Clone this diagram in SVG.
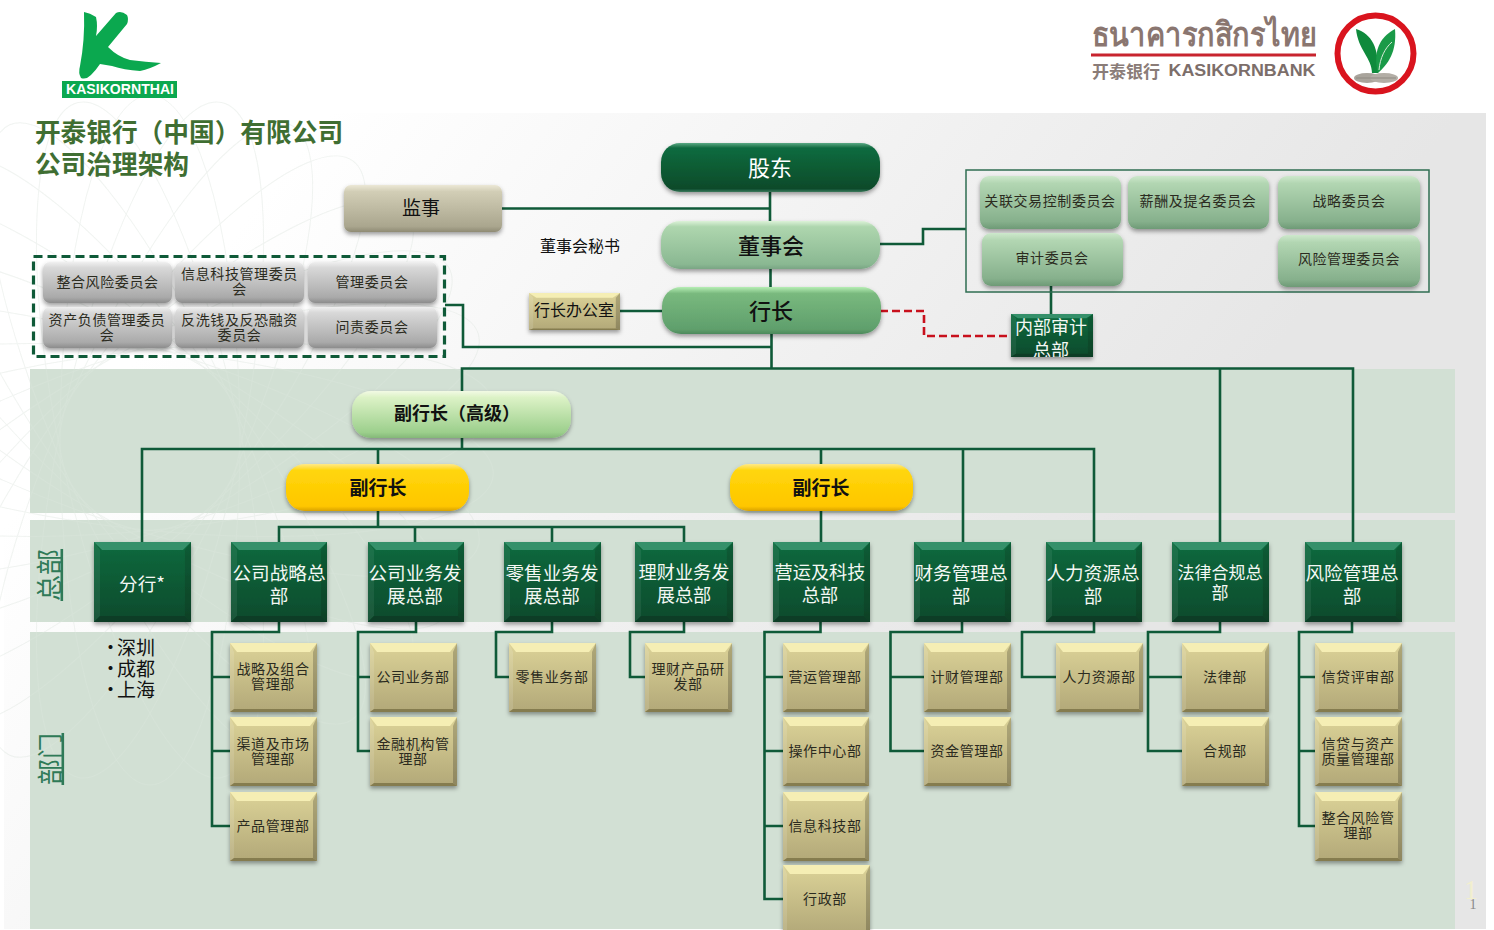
<svg xmlns="http://www.w3.org/2000/svg" width="1494" height="930" viewBox="0 0 1494 930">
<style>
text{font-family:"Noto Sans CJK SC","Noto Sans",sans-serif;text-anchor:middle;dominant-baseline:central;fill:#111}
text:not(.r){transform:translateY(-1.6px)}
.c{fill:none;stroke:#0f5a38;stroke-width:2.6;stroke-linejoin:miter}
.t14{font-size:14px;fill:#2b2b20;letter-spacing:.6px}
.t20{font-size:18.6px;fill:#f4f8f4}
.t18{font-size:18.2px;fill:#f4f8f4}
.t17{font-size:17px;fill:#f4f8f4}
.pill{filter:url(#sh)}
.frame{filter:url(#sh)}
</style>
<defs>
<filter id="sh" x="-10%" y="-15%" width="120%" height="135%"><feDropShadow dx="0" dy="2.5" stdDeviation="2" flood-color="#000" flood-opacity=".38"/></filter>
<linearGradient id="bg" gradientUnits="userSpaceOnUse" x1="300" y1="150" x2="1000" y2="700"><stop offset="0" stop-color="#fff"/><stop offset="1" stop-color="#e6e6e6"/></linearGradient>
<linearGradient id="gDark" x1="0" y1="0" x2="0" y2="1"><stop offset="0" stop-color="#5aa884"/><stop offset=".1" stop-color="#116b40"/><stop offset=".55" stop-color="#0a5a32"/><stop offset=".93" stop-color="#0a4a2b"/><stop offset="1" stop-color="#3e7a5c"/></linearGradient>
<linearGradient id="gBoard" x1="0" y1="0" x2="0" y2="1"><stop offset="0" stop-color="#dcf2d8"/><stop offset=".12" stop-color="#aed6ae"/><stop offset=".9" stop-color="#8ab892"/><stop offset="1" stop-color="#79a584"/></linearGradient>
<linearGradient id="gPres" x1="0" y1="0" x2="0" y2="1"><stop offset="0" stop-color="#b6eeb4"/><stop offset=".14" stop-color="#79b97e"/><stop offset=".9" stop-color="#5f9f6c"/><stop offset="1" stop-color="#4c8a5c"/></linearGradient>
<linearGradient id="gSvp" x1="0" y1="0" x2="0" y2="1"><stop offset="0" stop-color="#f2fae4"/><stop offset=".14" stop-color="#dcf2c6"/><stop offset=".88" stop-color="#9ccf8c"/><stop offset="1" stop-color="#84b878"/></linearGradient>
<linearGradient id="gYel" x1="0" y1="0" x2="0" y2="1"><stop offset="0" stop-color="#ffe98a"/><stop offset=".14" stop-color="#ffd60a"/><stop offset=".9" stop-color="#ffc600"/><stop offset="1" stop-color="#d9a200"/></linearGradient>
<linearGradient id="gSup" x1="0" y1="0" x2="0" y2="1"><stop offset="0" stop-color="#ece8d6"/><stop offset=".14" stop-color="#d2ceb6"/><stop offset=".88" stop-color="#aaa68e"/><stop offset="1" stop-color="#8f8b74"/></linearGradient>
<linearGradient id="gGrey" x1="0" y1="0" x2="0" y2="1"><stop offset="0" stop-color="#f0f0f0"/><stop offset=".14" stop-color="#d8d8d8"/><stop offset=".86" stop-color="#aaaaaa"/><stop offset="1" stop-color="#8c8c8c"/></linearGradient>
<linearGradient id="gCom" x1="0" y1="0" x2="0" y2="1"><stop offset="0" stop-color="#cde8cc"/><stop offset=".14" stop-color="#b2d6b2"/><stop offset=".86" stop-color="#86b08c"/><stop offset="1" stop-color="#6e9a76"/></linearGradient>
<linearGradient id="gHq" x1="0" y1="0" x2="0" y2="1"><stop offset="0" stop-color="#0f6a3e"/><stop offset="1" stop-color="#0a4a2c"/></linearGradient>
<linearGradient id="gDept" x1="0" y1="0" x2="0" y2="1"><stop offset="0" stop-color="#dcd398"/><stop offset="1" stop-color="#b2a878"/></linearGradient>
<symbol id="hq" viewBox="0 0 96 80" preserveAspectRatio="none">
<rect width="96" height="80" fill="url(#gHq)"/>
<polygon points="0,0 96,0 88,8 8,8" fill="#35906a"/>
<polygon points="0,0 6,8 6,74 0,80" fill="#fff" opacity=".07"/>
<polygon points="96,0 90,8 90,74 96,80" fill="#000" opacity=".12"/>
<polygon points="0,80 96,80 90,74 6,74" fill="#083d25"/>
</symbol>
<symbol id="dept" viewBox="0 0 87 69" preserveAspectRatio="none">
<rect width="87" height="69" fill="url(#gDept)"/>
<polygon points="0,0 87,0 80,9 7,9" fill="#f5eeb4"/>
<polygon points="0,0 4,9 4,66 0,69" fill="#fff" opacity=".12"/>
<polygon points="87,0 83,9 83,66 87,69" fill="#000" opacity=".2"/>
<polygon points="0,69 87,69 83,66 4,66" fill="#857c50"/>
</symbol>
<clipPath id="audit"><rect x="1011" y="314" width="82" height="43"/></clipPath>
<g id="rosette" fill="none">
<ellipse cx="150" cy="440" rx="90" ry="345"/>
<ellipse cx="150" cy="440" rx="90" ry="345" transform="rotate(12 150 440)"/>
<ellipse cx="150" cy="440" rx="90" ry="345" transform="rotate(24 150 440)"/>
<ellipse cx="150" cy="440" rx="90" ry="345" transform="rotate(36 150 440)"/>
<ellipse cx="150" cy="440" rx="90" ry="345" transform="rotate(48 150 440)"/>
<ellipse cx="150" cy="440" rx="90" ry="345" transform="rotate(60 150 440)"/>
<ellipse cx="150" cy="440" rx="90" ry="345" transform="rotate(-12 150 440)"/>
<ellipse cx="150" cy="440" rx="90" ry="345" transform="rotate(-24 150 440)"/>
<ellipse cx="150" cy="440" rx="90" ry="345" transform="rotate(-36 150 440)"/>
<ellipse cx="150" cy="440" rx="90" ry="345" transform="rotate(-48 150 440)"/>
<ellipse cx="150" cy="440" rx="90" ry="345" transform="rotate(-60 150 440)"/>
<ellipse cx="150" cy="440" rx="90" ry="345" transform="rotate(72 150 440)"/>
<ellipse cx="150" cy="440" rx="90" ry="345" transform="rotate(84 150 440)"/>
<ellipse cx="150" cy="440" rx="90" ry="345" transform="rotate(-72 150 440)"/>
<ellipse cx="150" cy="440" rx="90" ry="345" transform="rotate(-84 150 440)"/>
</g>
</defs>

<rect width="1494" height="930" fill="#fff"/>
<rect x="4" y="113" width="1482" height="816" fill="url(#bg)"/>
<use href="#rosette" stroke="#c9d2cb" stroke-width="1" opacity=".2"/>
<g id="bands" fill="#d2e0d4">
<rect x="30" y="369" width="1425" height="144"/>
<rect x="30" y="520" width="1425" height="102"/>
<rect x="30" y="632" width="1425" height="297"/>
</g>
<use href="#rosette" stroke="#e6eee7" stroke-width="1" opacity=".2"/>

<g id="logo-left">
<path d="M84 12 Q90 13 96 17 Q98 26 96 36 L116 13 Q121 10 127 15 Q129 19 127 24 L108 47 Q118 57 130 60 Q146 62 161 63 Q150 69 140 71 Q124 70 112 66 L100 64 Q96 70 91 75 Q86 80 81 78 Q78 73 80 66 Q85 40 84 12 Z" fill="#0ba84f"/>
<rect x="62" y="81" width="115" height="17" fill="#0ba84f"/>
<text x="120" y="91" font-size="14" font-weight="700" textLength="108" lengthAdjust="spacingAndGlyphs" style="fill:#fff;font-family:'Liberation Sans',sans-serif">KASIKORNTHAI</text>
</g>
<g id="logo-right">
<text x="1204" y="35" font-size="33" font-weight="700" textLength="225" lengthAdjust="spacingAndGlyphs" style="fill:#8a7670;font-family:'Noto Sans','DejaVu Sans',sans-serif">ธนาคารกสิกรไทย</text>
<rect x="1091" y="53.5" width="225" height="3" fill="#c8242e"/>
<text x="1126" y="72" font-size="17" font-weight="700" style="fill:#8a7c78">开泰银行</text>
<text x="1242" y="72" font-size="16" font-weight="700" textLength="147" lengthAdjust="spacingAndGlyphs" style="fill:#7c6e6a;font-family:'Liberation Sans',sans-serif">KASIKORNBANK</text>
<circle cx="1375.500" cy="53.500" r="38" fill="#fff" stroke="#d9141e" stroke-width="6"/>
<path d="M1356 29 C1372 34 1379 48 1378 73 L1372 73 C1372 58 1358 50 1356 29 Z" fill="#0f8a3c"/>
<path d="M1395 29 C1397 52 1388 64 1378 73 C1373 54 1378 38 1395 29 Z" fill="#1a9a48"/>
<path d="M1379 70 C1380 58 1385 48 1392 42" fill="none" stroke="#d8ead8" stroke-width="1"/>
<ellipse cx="1367" cy="78" rx="13" ry="5" fill="#a9a49c"/>
<ellipse cx="1384" cy="78" rx="14" ry="5" fill="#b3aea6"/>
<path d="M1356 78H1396" stroke="#8f8a82" stroke-width="1"/>
</g>

<g id="title">
<text x="189" y="132" font-size="25.7" font-weight="700" style="fill:#3f6e32">开泰银行（中国）有限公司</text>
<text x="112" y="164" font-size="25.7" font-weight="700" style="fill:#3f6e32">公司治理架构</text>
</g>

<g id="connectors">
<path class="c" d="M770 191V221M502 208.500H770M770.500 269V287M771.500 334V368.500"/>
<path class="c" d="M445 305H463V347H771"/>
<path class="c" d="M620 311H662"/>
<path class="c" d="M880 244H923V229H966"/>
<path d="M880 311H924V336H1011" fill="none" stroke="#c8101c" stroke-width="2.6" stroke-dasharray="8 4"/>
<path class="c" d="M1051 286V314"/>
<path class="c" d="M462 391V368.500H1353V542M1220 368.500V542"/>
<path class="c" d="M462 438V449M142 542V449H1094V542M378 449V464M821 449V464M963 449V542"/>
<path class="c" d="M378 511V527M279 542V527H684V542M415 527V542M552 527V542M821 511V542"/>
<path class="c" d="M279 622V632H212V826H230M212 677H230M212 751H230"/>
<path class="c" d="M416 622V632H358V751H370M358 677H370"/>
<path class="c" d="M552 622V632H496V677H509"/>
<path class="c" d="M684 622V632H630V677H645"/>
<path class="c" d="M820.500 622V632H764.500V899H783M764.500 677H783M764.500 751H783M764.500 826H783"/>
<path class="c" d="M962 622V632H890.500V751H924M890.500 677H924"/>
<path class="c" d="M1094 622V632H1022V677H1056"/>
<path class="c" d="M1220 622V632H1148V751H1182M1148 677H1182"/>
<path class="c" d="M1352 622V632H1299V826H1315M1299 677H1315M1299 751H1315"/>
</g>

<g id="n-shareholder"><rect class="pill" x="661" y="143" width="219" height="49" rx="19" fill="url(#gDark)"/><text x="770" y="168" font-size="22" style="fill:#fff">股东</text></g>
<g id="n-board"><rect class="pill" x="661" y="221" width="219" height="48" rx="19" fill="url(#gBoard)"/><text x="771" y="246" font-size="22" font-weight="500">董事会</text></g>
<g id="n-president"><rect class="pill" x="662" y="287" width="219" height="47" rx="19" fill="url(#gPres)"/><text x="771" y="311" font-size="22" font-weight="500">行长</text></g>
<g id="n-supervisor"><rect class="pill" x="344" y="185" width="158" height="47" rx="7" fill="url(#gSup)"/><text x="421" y="208" font-size="19">监事</text></g>
<g id="n-secretary"><text x="580" y="247" font-size="16">董事会秘书</text></g>
<g id="n-office"><use class="frame" href="#dept" x="529" y="293" width="91" height="37"/><text x="574" y="311" font-size="16">行长办公室</text></g>

<g id="n-mgmt-frame"><rect x="33.500" y="256.500" width="411" height="100" fill="none" stroke="#0f5a38" stroke-width="3.200" stroke-dasharray="9 5"/></g>
<g id="n-m1"><rect class="pill" x="43" y="262" width="129" height="41" rx="7" fill="url(#gGrey)"/><text class="t14" x="107.500" y="283">整合风险委员会</text></g>
<g id="n-m2"><rect class="pill" x="175" y="262" width="129" height="41" rx="7" fill="url(#gGrey)"/><text class="t14"><tspan x="239.500" y="275">信息科技管理委员</tspan><tspan x="239.500" y="290">会</tspan></text></g>
<g id="n-m3"><rect class="pill" x="308" y="262" width="129" height="41" rx="7" fill="url(#gGrey)"/><text class="t14" x="372" y="283">管理委员会</text></g>
<g id="n-m4"><rect class="pill" x="43" y="307" width="129" height="41" rx="7" fill="url(#gGrey)"/><text class="t14"><tspan x="107" y="321">资产负债管理委员</tspan><tspan x="107" y="336">会</tspan></text></g>
<g id="n-m5"><rect class="pill" x="175" y="307" width="129" height="41" rx="7" fill="url(#gGrey)"/><text class="t14"><tspan x="239.500" y="321">反洗钱及反恐融资</tspan><tspan x="239.500" y="336">委员会</tspan></text></g>
<g id="n-m6"><rect class="pill" x="308" y="307" width="129" height="41" rx="7" fill="url(#gGrey)"/><text class="t14" x="372" y="328">问责委员会</text></g>

<g id="n-board-frame"><rect x="966" y="170" width="463" height="122" fill="none" stroke="#2f6e52" stroke-width="1.500"/></g>
<g id="n-c1"><rect class="pill" x="980" y="176" width="141" height="53" rx="9" fill="url(#gCom)"/><text class="t14" x="1050" y="202">关联交易控制委员会</text></g>
<g id="n-c2"><rect class="pill" x="1128" y="176" width="141" height="53" rx="9" fill="url(#gCom)"/><text class="t14" x="1198" y="202">薪酬及提名委员会</text></g>
<g id="n-c3"><rect class="pill" x="1278" y="176" width="142" height="53" rx="9" fill="url(#gCom)"/><text class="t14" x="1349" y="202">战略委员会</text></g>
<g id="n-c4"><rect class="pill" x="982" y="233" width="141" height="53" rx="9" fill="url(#gCom)"/><text class="t14" x="1052" y="259">审计委员会</text></g>
<g id="n-c5"><rect class="pill" x="1278" y="235" width="142" height="52" rx="9" fill="url(#gCom)"/><text class="t14" x="1349" y="260">风险管理委员会</text></g>

<g id="n-audit"><use class="frame" href="#hq" x="1011" y="314" width="82" height="43"/><g clip-path="url(#audit)"><text style="font-size:18px;fill:#f4f8f4"><tspan x="1051" y="328">内部审计</tspan><tspan x="1051" y="351">总部</tspan></text></g></g>

<g id="n-svp"><rect class="pill" x="352" y="391" width="219" height="47" rx="19" fill="url(#gSvp)"/><text x="457" y="414" font-size="18" font-weight="700">副行长（高级）</text></g>
<g id="n-vp1"><rect class="pill" x="286" y="464" width="183" height="47" rx="19" fill="url(#gYel)"/><text x="378" y="488" font-size="19" font-weight="700">副行长</text></g>
<g id="n-vp2"><rect class="pill" x="730" y="464" width="183" height="47" rx="19" fill="url(#gYel)"/><text x="821" y="488" font-size="19" font-weight="700">副行长</text></g>

<g id="n-h0"><use class="frame" href="#hq" x="94" y="542" width="97" height="80"/><text class="t20" x="142" y="584">分行*</text></g>
<g id="n-h1"><use class="frame" href="#hq" x="231" y="542" width="96" height="80"/><text class="t20"><tspan x="279" y="573">公司战略总</tspan><tspan x="279" y="596">部</tspan></text></g>
<g id="n-h2"><use class="frame" href="#hq" x="368" y="542" width="96" height="80"/><text class="t20"><tspan x="415" y="573">公司业务发</tspan><tspan x="415" y="596">展总部</tspan></text></g>
<g id="n-h3"><use class="frame" href="#hq" x="504" y="542" width="97" height="80"/><text class="t20"><tspan x="552" y="573">零售业务发</tspan><tspan x="552" y="596">展总部</tspan></text></g>
<g id="n-h4"><use class="frame" href="#hq" x="635" y="542" width="98" height="80"/><text class="t18"><tspan x="684" y="573">理财业务发</tspan><tspan x="684" y="596">展总部</tspan></text></g>
<g id="n-h5"><use class="frame" href="#hq" x="773" y="542" width="97" height="80"/><text class="t18"><tspan x="820" y="573">营运及科技</tspan><tspan x="820" y="596">总部</tspan></text></g>
<g id="n-h6"><use class="frame" href="#hq" x="914" y="542" width="97" height="80"/><text class="t20"><tspan x="961" y="573">财务管理总</tspan><tspan x="961" y="596">部</tspan></text></g>
<g id="n-h7"><use class="frame" href="#hq" x="1046" y="542" width="96" height="80"/><text class="t20"><tspan x="1093" y="573">人力资源总</tspan><tspan x="1093" y="596">部</tspan></text></g>
<g id="n-h8"><use class="frame" href="#hq" x="1172" y="542" width="97" height="80"/><text class="t17"><tspan x="1220" y="573">法律合规总</tspan><tspan x="1220" y="593">部</tspan></text></g>
<g id="n-h9"><use class="frame" href="#hq" x="1305" y="542" width="97" height="80"/><text class="t20"><tspan x="1352" y="573">风险管理总</tspan><tspan x="1352" y="596">部</tspan></text></g>

<g id="n-branches">
<text font-size="19" style="text-anchor:start"><tspan x="101" y="648">•</tspan><tspan x="117" y="648">深圳</tspan><tspan x="101" y="669">•</tspan><tspan x="117" y="669">成都</tspan><tspan x="101" y="690">•</tspan><tspan x="117" y="690">上海</tspan></text>
</g>
<g id="n-label-hq"><text class="r" transform="translate(47 575) rotate(-90)" font-size="26" text-decoration="underline" style="fill:#2f7a57">总部</text></g>
<g id="n-label-dept"><text class="r" transform="translate(48 759) rotate(-90)" font-size="26" text-decoration="underline" style="fill:#2f7a57">部门</text></g>

<g id="n-d1"><use class="frame" href="#dept" x="230" y="643" width="87" height="69"/><text class="t14"><tspan x="273" y="670">战略及组合</tspan><tspan x="273" y="685">管理部</tspan></text></g>
<g id="n-d2"><use class="frame" href="#dept" x="230" y="717" width="87" height="69"/><text class="t14"><tspan x="273" y="745">渠道及市场</tspan><tspan x="273" y="760">管理部</tspan></text></g>
<g id="n-d3"><use class="frame" href="#dept" x="230" y="792" width="87" height="69"/><text class="t14" x="273" y="827">产品管理部</text></g>
<g id="n-d4"><use class="frame" href="#dept" x="370" y="643" width="87" height="69"/><text class="t14" x="413" y="678">公司业务部</text></g>
<g id="n-d5"><use class="frame" href="#dept" x="370" y="717" width="87" height="69"/><text class="t14"><tspan x="413" y="745">金融机构管</tspan><tspan x="413" y="760">理部</tspan></text></g>
<g id="n-d6"><use class="frame" href="#dept" x="509" y="643" width="87" height="69"/><text class="t14" x="552" y="678">零售业务部</text></g>
<g id="n-d7"><use class="frame" href="#dept" x="645" y="643" width="87" height="69"/><text class="t14"><tspan x="688" y="670">理财产品研</tspan><tspan x="688" y="685">发部</tspan></text></g>
<g id="n-d8"><use class="frame" href="#dept" x="783" y="643" width="86" height="69"/><text class="t14" x="825" y="678">营运管理部</text></g>
<g id="n-d9"><use class="frame" href="#dept" x="783" y="717" width="86" height="69"/><text class="t14" x="825" y="752">操作中心部</text></g>
<g id="n-d10"><use class="frame" href="#dept" x="783" y="792" width="86" height="69"/><text class="t14" x="825" y="827">信息科技部</text></g>
<g id="n-d11"><use class="frame" href="#dept" x="783" y="865" width="87" height="69"/><text class="t14" x="825" y="900">行政部</text></g>
<g id="n-d12"><use class="frame" href="#dept" x="924" y="643" width="87" height="69"/><text class="t14" x="967" y="678">计财管理部</text></g>
<g id="n-d13"><use class="frame" href="#dept" x="924" y="717" width="87" height="69"/><text class="t14" x="967" y="752">资金管理部</text></g>
<g id="n-d14"><use class="frame" href="#dept" x="1056" y="643" width="87" height="69"/><text class="t14" x="1099" y="678">人力资源部</text></g>
<g id="n-d15"><use class="frame" href="#dept" x="1182" y="643" width="87" height="69"/><text class="t14" x="1225" y="678">法律部</text></g>
<g id="n-d16"><use class="frame" href="#dept" x="1182" y="717" width="87" height="69"/><text class="t14" x="1225" y="752">合规部</text></g>
<g id="n-d17"><use class="frame" href="#dept" x="1315" y="643" width="87" height="69"/><text class="t14" x="1358" y="678">信贷评审部</text></g>
<g id="n-d18"><use class="frame" href="#dept" x="1315" y="717" width="87" height="69"/><text class="t14"><tspan x="1358" y="745">信贷与资产</tspan><tspan x="1358" y="760">质量管理部</tspan></text></g>
<g id="n-d19"><use class="frame" href="#dept" x="1315" y="792" width="87" height="69"/><text class="t14"><tspan x="1358" y="819">整合风险管</tspan><tspan x="1358" y="834">理部</tspan></text></g>

<g id="page-number">
<text x="1471" y="891" font-size="28" style="fill:#f2efcf;font-family:'Liberation Serif',serif">1</text>
<text x="1473" y="906" font-size="14" style="fill:#8a8a8a;font-family:'Liberation Serif',serif">1</text>
</g>
</svg>
